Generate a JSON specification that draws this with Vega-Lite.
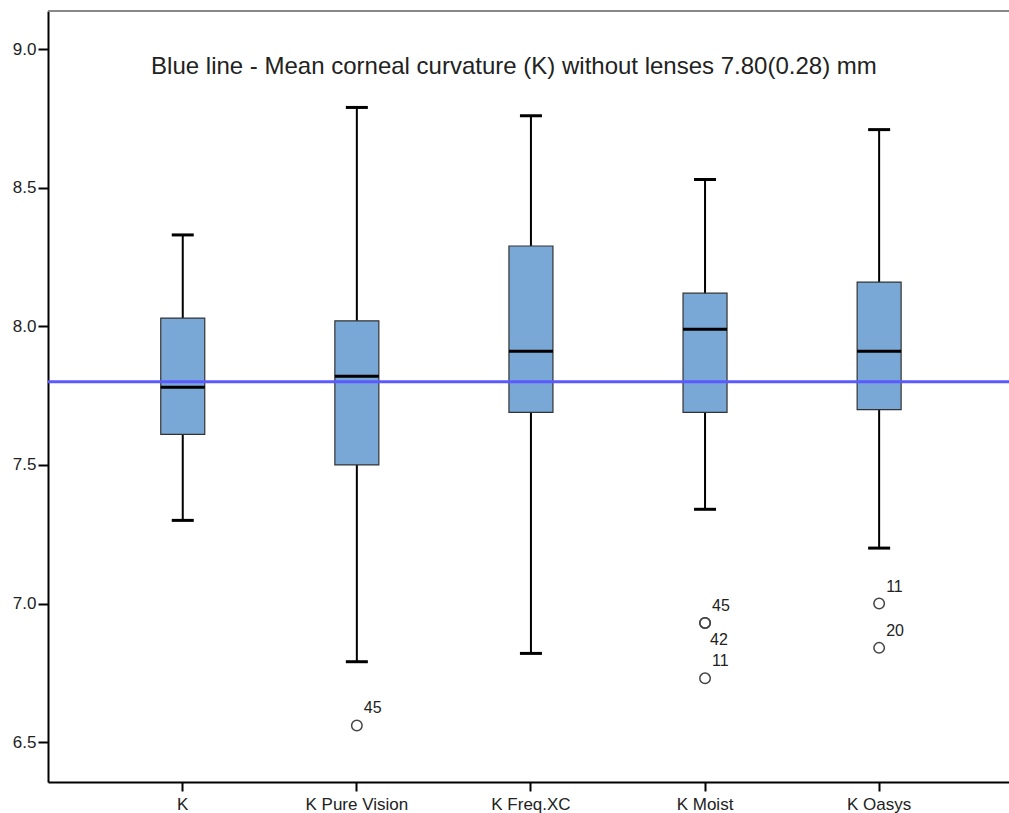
{
  "$schema": "https://vega.github.io/schema/vega-lite/v6.json",
  "autosize": {"type": "none"},
  "width": 961,
  "height": 771,
  "padding": {"left": 48, "top": 11, "right": 0, "bottom": 31},
  "background": "white",
  "config": {
    "view": {"stroke": null},
    "font": "Liberation Sans",
    "axis": {"grid": false, "domainColor": "#000", "tickColor": "#000", "labelColor": "#222", "labelFont": "Liberation Sans", "labelFontSize": 17, "titleFontSize": 0}
  },
  "datasets": {
    "boxes": [
      {"cat": "K", "lower": 7.30, "q1": 7.61, "median": 7.78, "q3": 8.03, "upper": 8.33},
      {"cat": "K Pure Vision", "lower": 6.79, "q1": 7.50, "median": 7.82, "q3": 8.02, "upper": 8.79},
      {"cat": "K Freq.XC", "lower": 6.82, "q1": 7.69, "median": 7.91, "q3": 8.29, "upper": 8.76},
      {"cat": "K Moist", "lower": 7.34, "q1": 7.69, "median": 7.99, "q3": 8.12, "upper": 8.53},
      {"cat": "K Oasys", "lower": 7.20, "q1": 7.70, "median": 7.91, "q3": 8.16, "upper": 8.71}
    ],
    "outliers": [
      {"cat": "K Pure Vision", "value": 6.56, "id": "45"},
      {"cat": "K Moist", "value": 6.93, "id": "45"},
      {"cat": "K Moist", "value": 6.93, "id": "42"},
      {"cat": "K Moist", "value": 6.73, "id": "11"},
      {"cat": "K Oasys", "value": 7.00, "id": "11"},
      {"cat": "K Oasys", "value": 6.84, "id": "20"}
    ],
    "reference": [
      {"mean": 7.80, "label": "Blue line - Mean corneal curvature (K) without lenses 7.80(0.28) mm"}
    ]
  },
  "layer": [
    {
      "data": {"name": "boxes"},
      "mark": {"type": "rule", "color": "#000", "strokeWidth": 2},
      "encoding": {
        "x": {
          "field": "cat", "type": "nominal",
          "sort": ["K", "K Pure Vision", "K Freq.XC", "K Moist", "K Oasys"],
          "scale": {"domain": ["K", "K Pure Vision", "K Freq.XC", "K Moist", "K Oasys"], "paddingInner": 0, "paddingOuter": 0.26, "align": 0.527},
          "axis": {"title": null, "labelAngle": 0, "tickSize": 9, "tickWidth": 2, "labelPadding": 5, "domainWidth": 2}
        },
        "y": {"field": "lower", "type": "quantitative",
          "scale": {"domain": [6.356, 9.138], "nice": false, "zero": false},
          "axis": {"title": null, "values": [6.5, 7.0, 7.5, 8.0, 8.5, 9.0], "format": ".1f", "tickSize": 10, "tickWidth": 2, "labelPadding": 2, "domainWidth": 2}},
        "y2": {"field": "upper"}
      }
    },
    {
      "data": {"name": "boxes"},
      "mark": {"type": "bar", "size": 44, "color": "#7aa8d6", "stroke": "#333", "strokeWidth": 1.2},
      "encoding": {
        "x": {"field": "cat", "type": "nominal"},
        "y": {"field": "q1", "type": "quantitative"},
        "y2": {"field": "q3"}
      }
    },
    {
      "data": {"name": "boxes"},
      "mark": {"type": "tick", "size": 44, "thickness": 3, "color": "#000", "opacity": 1},
      "encoding": {"x": {"field": "cat", "type": "nominal"}, "y": {"field": "median", "type": "quantitative"}}
    },
    {
      "data": {"name": "boxes"},
      "mark": {"type": "tick", "size": 22, "thickness": 3, "color": "#000", "opacity": 1},
      "encoding": {"x": {"field": "cat", "type": "nominal"}, "y": {"field": "upper", "type": "quantitative"}}
    },
    {
      "data": {"name": "boxes"},
      "mark": {"type": "tick", "size": 22, "thickness": 3, "color": "#000", "opacity": 1},
      "encoding": {"x": {"field": "cat", "type": "nominal"}, "y": {"field": "lower", "type": "quantitative"}}
    },
    {
      "data": {"name": "reference"},
      "mark": {"type": "rule", "color": "#5a5aff", "strokeWidth": 3},
      "encoding": {"y": {"field": "mean", "type": "quantitative"}}
    },
    {
      "data": {"name": "reference"},
      "mark": {"type": "rule", "color": "#888", "strokeWidth": 2},
      "encoding": {"y": {"datum": 9.138}}
    },
    {
      "data": {"name": "outliers"},
      "mark": {"type": "point", "shape": "circle", "filled": false, "size": 110, "stroke": "#444", "strokeWidth": 1.5, "opacity": 1},
      "encoding": {"x": {"field": "cat", "type": "nominal"}, "y": {"field": "value", "type": "quantitative"}}
    },
    {
      "data": {"name": "outliers"},
      "transform": [{"filter": "datum.id !== '42' || datum.cat !== 'K Moist'"}],
      "mark": {"type": "text", "align": "left", "baseline": "middle", "dx": 7, "dy": -17, "fontSize": 16, "color": "#222"},
      "encoding": {"x": {"field": "cat", "type": "nominal"}, "y": {"field": "value", "type": "quantitative"}, "text": {"field": "id"}}
    },
    {
      "data": {"name": "outliers"},
      "transform": [{"filter": "datum.id === '42' && datum.cat === 'K Moist'"}],
      "mark": {"type": "text", "align": "left", "baseline": "middle", "dx": 5, "dy": 17, "fontSize": 16, "color": "#222"},
      "encoding": {"x": {"field": "cat", "type": "nominal"}, "y": {"field": "value", "type": "quantitative"}, "text": {"field": "id"}}
    },
    {
      "data": {"name": "reference"},
      "mark": {"type": "text", "align": "center", "baseline": "alphabetic", "dx": -17, "fontSize": 24, "color": "#222"},
      "encoding": {
        "x": {"datum": "K Freq.XC"},
        "y": {"datum": 8.91},
        "text": {"field": "label"}
      }
    }
  ]
}
